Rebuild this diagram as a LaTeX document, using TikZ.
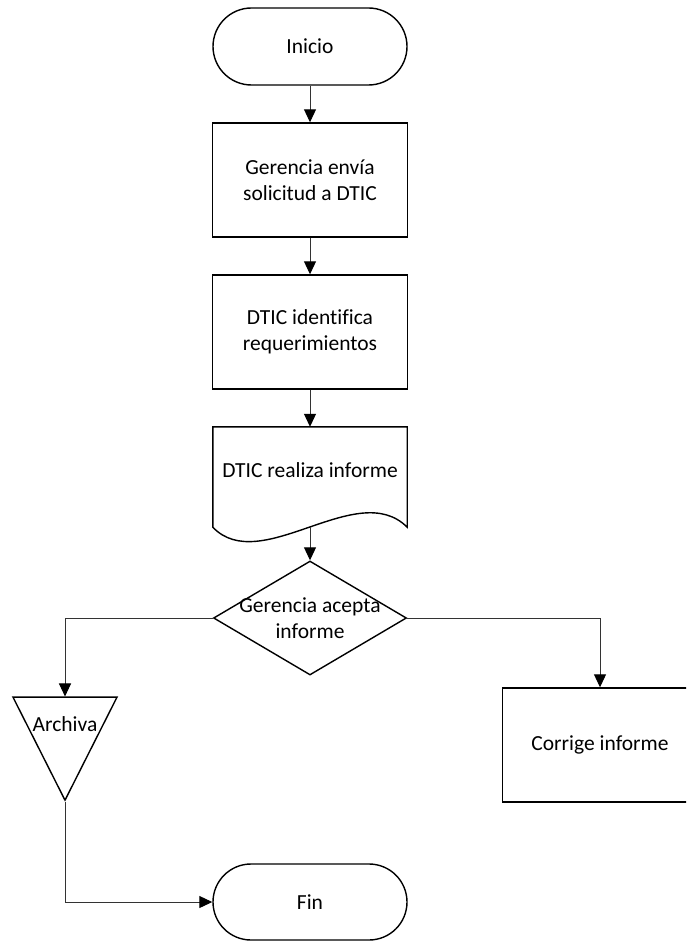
\documentclass[tikz,border=0pt]{standalone}
\usepackage{fontspec}
\setmainfont{Carlito}[Ligatures=NoCommon]
\usepackage{tikz}
\usetikzlibrary{
  arrows.meta,
  shapes.geometric,
  shapes.misc,
  positioning
}

\begin{document}
\begin{tikzpicture}[x=1pt, y=1pt,
  flow/.style={draw=black, line width=1.4pt, align=center, inner sep=0pt,
               font=\fontsize{21.5}{25.8}\selectfont},
  txt/.style={font=\fontsize{21.5}{25.8}\selectfont, align=center, inner sep=0pt},
  terminal/.style={flow, rounded rectangle, minimum width=194pt, minimum height=77pt},
  proc/.style={flow, rectangle, minimum width=195pt, minimum height=114pt},
  decision/.style={flow, diamond, minimum width=193pt, minimum height=114pt, aspect=1.7},
  merge/.style={flow, isosceles triangle, shape border rotate=270,
                isosceles triangle stretches, minimum width=104pt, minimum height=103pt},
  arr/.style={-{Triangle[length=13pt, width=12pt, color=black]}, line width=1pt, color=black!80}
]
  \useasboundingbox (0,0) rectangle (686,-941);
  \clip (0,0) rectangle (686,-941);
  \fill[white] (0,0) rectangle (686,-941);

  \node[terminal] (inicio) at (310,-46.5) {Inicio};
  \node[proc]     (ger)    at (310,-180)  {Gerencia envía\\solicitud a DTIC};
  \node[proc]     (dtic)   at (310,-332)  {DTIC identifica\\requerimientos};

  % document symbol with wavy bottom
  \node[txt, minimum width=194pt, minimum height=86pt] (inf) at (310,-470) {DTIC realiza informe};
  \draw[line width=1.4pt] (inf.north west) -- ([yshift=-14pt]inf.south west)
    .. controls +(48,-50) and +(-50,50) .. ([yshift=-14pt]inf.south east)
    -- (inf.north east) -- cycle;
  \coordinate (infbot) at ([yshift=-14pt]inf.south);

  \node[decision, label={[txt]center:{Gerencia acepta\\informe}}] (acepta) at (310,-618) {};
  \node[merge, anchor=apex] (arch) at (65,-802) {};
  \node[txt] (archtxt) at ([yshift=-28pt]arch.lower side) {Archiva};
  \node[proc]     (corr)   at (600,-745)  {Corrige informe};
  \node[terminal, minimum height=76pt] (fin) at (310,-902) {Fin};

  \foreach \from/\to in {inicio/ger, ger/dtic, dtic/inf}{
    \draw[arr] (\from.south) -- (\to.north);
  }
  \draw[arr] (infbot) -- (acepta.north);
  \draw[arr] (acepta.west) -| (arch.lower side);
  \draw[arr] (acepta.east) -| (corr.north);
  \draw[arr] (arch.apex) |- (fin.west);
\end{tikzpicture}
\end{document}
